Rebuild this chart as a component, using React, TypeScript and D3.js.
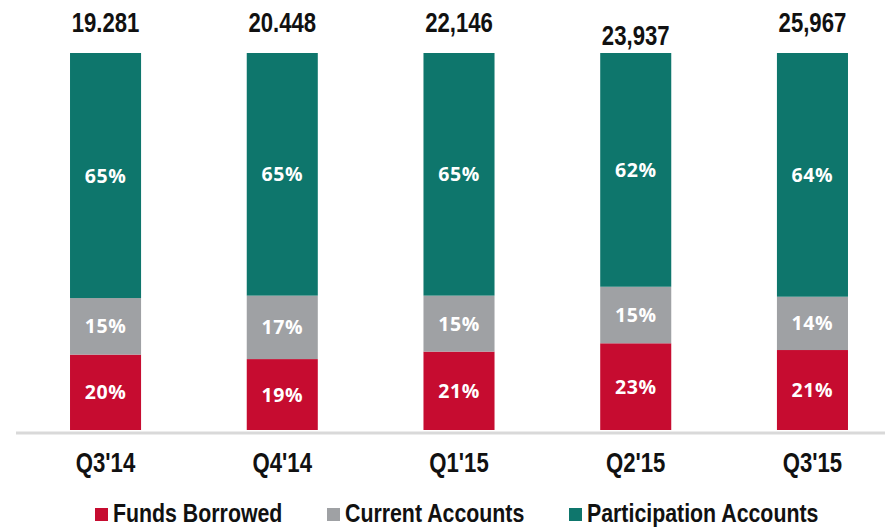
import React, { useEffect, useRef } from "react";
import * as d3 from "d3";

// quarters and deposit mix (%)
const quarters = ["Q3'14", "Q4'14", "Q1'15", "Q2'15", "Q3'15"];
const totals = ["19.281", "20.448", "22,146", "23,937", "25,967"];
const fundsBorrowed = [20, 19, 21, 23, 21];
const currentAccounts = [15, 17, 15, 15, 14];
const participationAccounts = [65, 65, 65, 62, 64];

const seriesNames = ["Funds Borrowed", "Current Accounts", "Participation Accounts"];
const seriesColors = ["#c60c30", "#9fa1a4", "#0e766c"];

const W = 885;
const H = 531;

// squeeze text to a narrow face (no narrow font installed)
const narrowText = (sel: any, factor = 0.82) => {
  sel.each(function (this: SVGTextElement) {
    const w = this.getComputedTextLength();
    d3.select(this)
      .attr("textLength", w * factor)
      .attr("lengthAdjust", "spacingAndGlyphs");
  });
};

const App = () => {
  const svgRef = useRef<SVGSVGElement>(null);

  useEffect(() => {
    const svg = d3.select(svgRef.current);
    svg.selectAll("*").remove();

    const rows = quarters.map((q, i) => ({
      q,
      fb: fundsBorrowed[i],
      ca: currentAccounts[i],
      pa: participationAccounts[i],
    }));
    const keys = ["fb", "ca", "pa"];
    const stack = d3.stack<any>().keys(keys).offset(d3.stackOffsetExpand);
    const layers = stack(rows);

    const x = d3
      .scaleBand()
      .domain(quarters)
      .range([17, 901])
      .paddingInner(0.598)
      .paddingOuter(0.3);
    const y = d3.scaleLinear().domain([0, 1]).range([430, 53]);

    const font = "'Liberation Sans', Arial, sans-serif";

    // baseline
    svg
      .append("line")
      .attr("x1", 16)
      .attr("x2", W)
      .attr("y1", 433)
      .attr("y2", 433)
      .attr("stroke", "#d9d9d9")
      .attr("stroke-width", 3);

    const layerG = svg
      .selectAll(".layer")
      .data(layers)
      .enter()
      .append("g")
      .attr("fill", (d, i) => seriesColors[i]);

    layerG
      .selectAll("rect")
      .data((d) => d)
      .enter()
      .append("rect")
      .attr("x", (d: any) => x(d.data.q)!)
      .attr("width", x.bandwidth())
      .attr("y", (d) => y(d[1]))
      .attr("height", (d) => y(d[0]) - y(d[1]));

    // segment labels
    layers.forEach((layer) => {
      svg
        .append("g")
        .selectAll("text")
        .data(layer)
        .enter()
        .append("text")
        .attr("x", (d: any) => x(d.data.q)! + x.bandwidth() / 2)
        .attr("y", (d) => (y(d[0]) + y(d[1])) / 2 + 7)
        .attr("text-anchor", "middle")
        .attr("fill", "#fff")
        .attr("font-family", "'Open Sans', sans-serif")
        .attr("font-weight", "bold")
        .attr("font-size", 19.5)
        .attr("letter-spacing", 0.6)
        .text((d: any) => d.data[layer.key] + "%");
    });

    // totals on top (Q2'15 label sits a bit lower in the original)
    const totalDy = [0, 0, 0, 13, 0];
    svg
      .append("g")
      .selectAll("text")
      .data(quarters)
      .enter()
      .append("text")
      .attr("x", (d) => x(d)! + x.bandwidth() / 2)
      .attr("y", (d, i) => 32 + totalDy[i])
      .attr("text-anchor", "middle")
      .attr("fill", "#111")
      .attr("font-family", font)
      .attr("font-weight", "bold")
      .attr("font-size", 27)
      .text((d, i) => totals[i])
      .call(narrowText);

    // category labels
    svg
      .append("g")
      .selectAll("text")
      .data(quarters)
      .enter()
      .append("text")
      .attr("x", (d) => x(d)! + x.bandwidth() / 2)
      .attr("y", 472)
      .attr("text-anchor", "middle")
      .attr("fill", "#111")
      .attr("font-family", font)
      .attr("font-weight", "bold")
      .attr("font-size", 27)
      .text((d) => d)
      .call(narrowText);

    // legend
    const legendX = [95, 327, 569];
    const legend = svg
      .append("g")
      .selectAll("g")
      .data(seriesNames)
      .enter()
      .append("g")
      .attr("transform", (d, i) => `translate(${legendX[i]},508)`);
    legend
      .append("rect")
      .attr("width", 13)
      .attr("height", 13)
      .attr("fill", (d, i) => seriesColors[i]);
    legend
      .append("text")
      .attr("x", 18)
      .attr("y", 14)
      .attr("fill", "#111")
      .attr("font-family", font)
      .attr("font-weight", "bold")
      .attr("font-size", 26)
      .text((d) => d)
      .call(narrowText);
  }, []);

  return (
    <svg
      ref={svgRef}
      width={W}
      height={H}
      style={{ position: "absolute", left: 0, top: 0, background: "#fff" }}
    ></svg>
  );
};

export default App;
